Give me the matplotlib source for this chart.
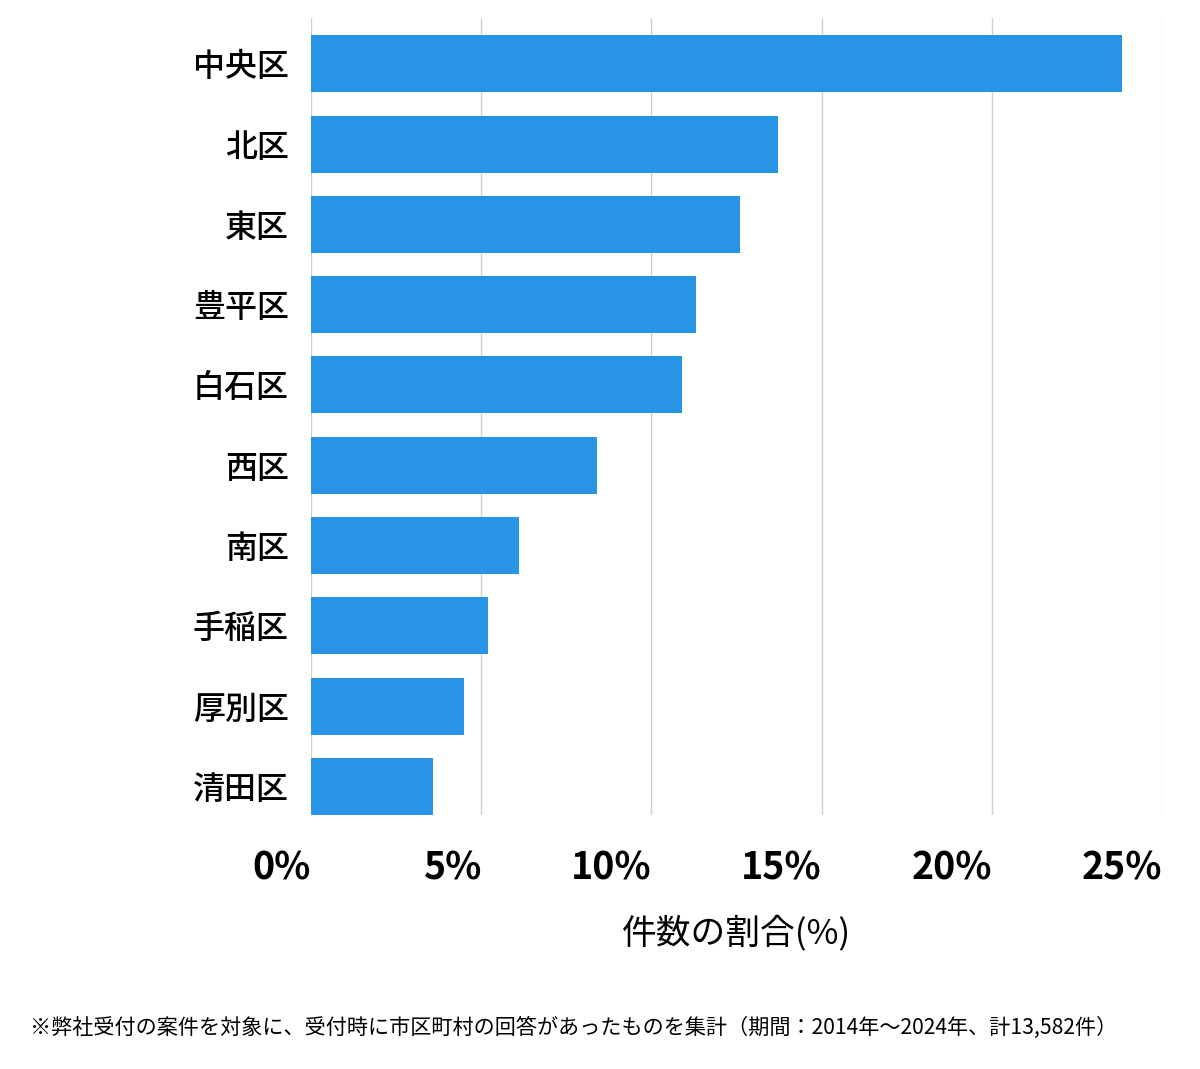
import matplotlib
matplotlib.use("Agg")
import matplotlib.pyplot as plt

plt.rcParams['font.family'] = ['Noto Sans CJK JP', 'DejaVu Sans']

# 区ごとの件数の割合(%)
wards = ['中央区', '北区', '東区', '豊平区', '白石区', '西区', '南区', '手稲区', '厚別区', '清田区']
shares = [23.82, 13.72, 12.60, 11.31, 10.90, 8.40, 6.11, 5.20, 4.49, 3.58]
ticks = [0, 5, 10, 15, 20, 25]
tick_labels = ['0%', '5%', '10%', '15%', '20%', '25%']
footnote = '※弊社受付の案件を対象に、受付時に市区町村の回答があったものを集計（期間：2014年～2024年、計13,582件）'

fig = plt.figure(figsize=(12, 10.69), dpi=100)
ax = fig.add_axes([311 / 1200, 1 - 815 / 1069, (1162 - 311) / 1200, (815 - 18) / 1069])

pos = list(range(len(wards)))
ax.barh(pos, shares, height=0.71, color='#2794e6', zorder=3)

ax.set_xlim(0, 25)
ax.set_ylim(len(wards) - 1 + 0.355, -0.57)
ax.set_yticks(pos)
ax.set_yticklabels(wards, fontsize=23, fontweight='medium')
ax.set_xticks(ticks)
ax.set_xticklabels(tick_labels, fontsize=27, fontweight='bold')
for lab in ax.get_xticklabels():
    lab.set_horizontalalignment('right')

ax.tick_params(axis='x', length=0, pad=24)
ax.tick_params(axis='y', length=0, pad=16)
ax.grid(axis='x', color='#d0d0d0', linewidth=1, zorder=0)
for s in ax.spines.values():
    s.set_visible(False)

ax.set_xlabel('件数の割合(%)', fontsize=25, labelpad=20)

fig.text(30 / 1200, 1 - 1028 / 1069, footnote, fontsize=15.2, va='center', ha='left')

fig.savefig('out.png', dpi=100)
